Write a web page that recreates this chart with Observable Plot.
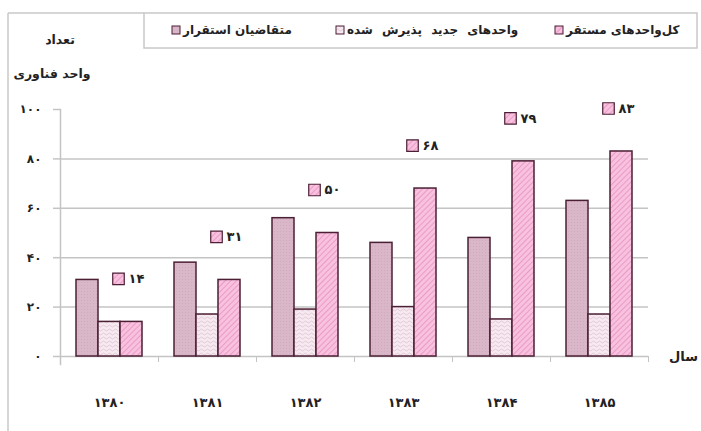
<!DOCTYPE html>
<html><head><meta charset="utf-8">
<script src="https://cdn.jsdelivr.net/npm/d3@7"></script>
<script src="https://cdn.jsdelivr.net/npm/@observablehq/plot@0.6"></script>
<style>
body{margin:0;background:#fff;}
#chart{position:relative;width:701px;height:431px;}
</style>
</head><body>
<svg width="0" height="0" style="position:absolute">
<defs>
<pattern id="pApp" width="3" height="3" patternUnits="userSpaceOnUse">
<rect width="3" height="3" fill="#d9b6c8"/><rect width="1" height="1" fill="#d0abbe"/>
</pattern>
<pattern id="pNew" width="6" height="4" patternUnits="userSpaceOnUse">
<rect width="6" height="4" fill="#f7e9f0"/>
<path d="M0 2 L1.5 1 L3 2 L4.5 3 L6 2" stroke="#dcc0cf" fill="none" stroke-width="0.8"/>
</pattern>
<pattern id="pTot" width="4" height="4" patternUnits="userSpaceOnUse" patternTransform="rotate(45)">
<rect width="4" height="4" fill="#f8c2df"/>
<line x1="0" y1="0" x2="0" y2="4" stroke="#e589bd" stroke-width="1.4"/>
</pattern>
</defs>
</svg>
<div id="chart"></div>
<script>
const years = ["1380","1381","1382","1383","1384","1385"];
const yearLabels = ["۱۳۸۰","۱۳۸۱","۱۳۸۲","۱۳۸۳","۱۳۸۴","۱۳۸۵"];
const seriesNames = ["متقاضیان استقرار","واحدهای جدید پذیرش شده","کل‌واحدهای مستقر"];
const seriesFills = ["url(#pApp)","url(#pNew)","url(#pTot)"];
const applicants = [31,38,56,46,48,63];
const newAccepted = [14,17,19,20,15,17];
const totalUnits = [14,31,50,68,79,83];
const yTicks = [0,20,40,60,80,100];
const yTitle = ["تعداد","واحد فناوری"];
const xTitle = "سال";

const faDigits = "۰۱۲۳۴۵۶۷۸۹";
const fa = n => String(n).replace(/\d/g, d => faDigits[+d]);

const seriesValues = [applicants, newAccepted, totalUnits];
const rows = years.flatMap((yr, i) => seriesNames.map((s, j) => ({year: yr, series: s, value: seriesValues[j][i]})));
const totals = years.map((yr, i) => ({year: yr, series: seriesNames[2], value: totalUnits[i], label: fa(totalUnits[i])}));

const dark = "#4b1f34";
const grid = "#c4c4c4";

const svg = Plot.plot({
  width: 701, height: 431,
  marginLeft: 60, marginRight: 53, marginTop: 109, marginBottom: 75,
  style: {fontFamily: "DejaVu Sans", fontSize: "11px", color: "#222", background: "#fff", overflow: "visible"},
  fx: {domain: years, padding: 0, axis: null, label: null},
  x: {domain: seriesNames, paddingInner: 0, paddingOuter: 0.727, axis: null, label: null},
  y: {domain: [0, 100], axis: null, label: null},
  color: {domain: seriesNames, range: seriesFills},
  marks: [
    Plot.ruleY(yTicks.filter(d => d > 0 && d < 100), {stroke: grid, strokeWidth: 1.5}),
    Plot.ruleY([0], {stroke: grid, strokeWidth: 1.5}),
    Plot.frame({anchor: "left", insetTop: 247, insetBottom: -5, stroke: grid, strokeWidth: 1}),
    Plot.frame({anchor: "right", insetTop: 247, insetBottom: -5, stroke: grid, strokeWidth: 1}),
    Plot.frame({anchor: "left", insetBottom: -8, stroke: grid, strokeWidth: 1.5, facetAnchor: "left"}),
    Plot.axisY({ticks: yTicks, tickSize: 7, tickPadding: 12, tickFormat: fa, label: null, stroke: grid, strokeWidth: 1.5, fontWeight: "bold", fontSize: 12}),
    Plot.barY(rows, {fx: "year", x: "series", y: "value", fill: "series", stroke: dark, strokeWidth: 1.5}),
    Plot.dot(totals, {fx: "year", x: "series", y: "value", dy: -43, dx: -13, symbol: "square", r: 6.5, fill: "url(#pTot)", stroke: dark, strokeWidth: 1.2}),
    Plot.text(totals, {fx: "year", x: "series", y: "value", text: "label", dy: -43, dx: -3, textAnchor: "start", fontWeight: "bold", fontSize: 13, fill: "#222"}),
    Plot.axisFx({anchor: "bottom", tickSize: 0, tickPadding: 41, label: null, tickFormat: d => yearLabels[years.indexOf(d)], fontWeight: "bold", fontSize: 13})
  ]
});
document.getElementById("chart").appendChild(svg);

const s = d3.select(svg);
const g = s.append("g");
// outer frame & legend box
g.append("line").attr("x1", 8).attr("x2", 8).attr("y1", 13).attr("y2", 431).attr("stroke", "#c8c8c8").attr("stroke-width", 1.5);
g.append("line").attr("x1", 8).attr("x2", 144).attr("y1", 13).attr("y2", 13).attr("stroke", "#c8c8c8").attr("stroke-width", 1.5);
g.append("rect").attr("x", 144).attr("y", 13).attr("width", 553).attr("height", 35).attr("fill", "none").attr("stroke", "#c8c8c8").attr("stroke-width", 1.5);

const legendX = [172, 336, 555];
const legendWordSpacing = [0, 5, 0];
seriesNames.forEach((name, j) => {
  g.append("rect").attr("x", legendX[j]).attr("y", 26).attr("width", 8).attr("height", 8)
    .attr("fill", seriesFills[j]).attr("stroke", dark).attr("stroke-width", 1);
  g.append("text").attr("x", legendX[j] + 11).attr("y", 30).attr("dy", "0.35em")
    .attr("font-weight", "bold").attr("font-size", 12).attr("fill", "#222").attr("text-anchor", "start")
    .style("word-spacing", legendWordSpacing[j] + "px")
    .text(name);
});
// y title
g.append("text").attr("x", 60).attr("y", 40).attr("dy", "0.35em").attr("text-anchor", "middle")
  .attr("font-weight", "bold").attr("font-size", 12.5).attr("fill", "#222").text(yTitle[0]);
g.append("text").attr("x", 52).attr("y", 74).attr("dy", "0.35em").attr("text-anchor", "middle")
  .attr("font-weight", "bold").attr("font-size", 12.5).attr("fill", "#222").text(yTitle[1]);
// x title
g.append("text").attr("x", 698).attr("y", 356).attr("dy", "0.35em").attr("text-anchor", "end")
  .attr("font-weight", "bold").attr("font-size", 13).attr("fill", "#222").text(xTitle);
</script>
</body></html>
